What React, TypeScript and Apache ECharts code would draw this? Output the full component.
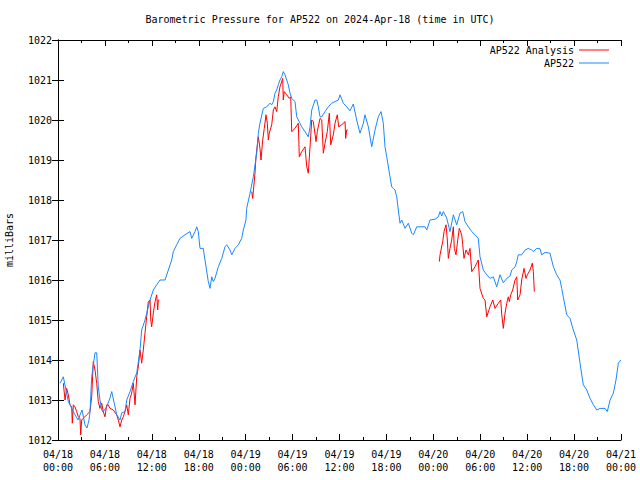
import React, { useEffect, useRef } from "react";
import * as echarts from "echarts";

const TITLE = "Barometric Pressure for AP522 on 2024-Apr-18 (time in UTC)";
const Y_NAME = "milliBars";
const SERIES_NAMES = ["AP522 Analysis", "AP522"];
const START_DAY = 18;

// hours since 2024-04-18 00:00 UTC
const stationHours = [
  0.26, 0.68, 1.32, 1.53, 2.17, 2.56, 3.07, 3.45, 3.71, 3.96, 4.09, 4.31, 4.73, 4.95, 5.15, 5.37, 5.59, 5.76,
  6.23, 6.65, 6.87, 7.29, 7.51, 7.93, 8.15, 8.57, 8.79, 9.21, 9.63, 10.07, 10.49, 10.7, 11.13, 11.34, 11.77,
  12.19, 12.62, 13.05, 13.69, 14.11, 14.54, 14.75, 15.18, 15.6, 16.24, 16.88, 17.1, 17.52, 17.74, 17.94, 18.16,
  18.58, 18.8, 19.22, 19.44, 19.66, 19.86, 20.08, 20.5, 20.94, 21.36, 21.58, 22.0, 22.22, 22.64, 23.06, 23.49,
  23.7, 24.04, 24.13, 24.56, 24.98, 25.41, 25.62, 25.83, 26.26, 26.69, 27.11, 27.33, 27.54, 27.75, 27.97, 28.17,
  28.39, 28.61, 28.81, 29.03, 29.25, 29.45, 29.67, 29.89, 30.31, 30.53, 30.73, 30.95, 31.17, 31.59, 32.01, 32.23,
  32.45, 32.87, 33.09, 33.29, 33.51, 33.73, 34.15, 34.57, 35.0, 35.43, 35.85, 36.07, 36.49, 36.92, 37.34, 37.77,
  38.2, 38.62, 39.05, 39.26, 39.69, 40.12, 40.54, 40.96, 41.31, 41.6, 41.82, 42.04, 42.46, 42.68, 42.88, 43.1,
  43.32, 43.52, 43.74, 43.96, 44.38, 44.8, 45.24, 45.44, 45.88, 46.94, 47.16, 47.58, 48.22, 48.64, 48.86, 49.07,
  49.28, 49.71, 50.13, 50.56, 50.99, 51.41, 51.76, 52.05, 52.48, 52.91, 53.33, 53.75, 53.97, 54.39, 54.83, 55.25,
  55.67, 56.11, 56.53, 56.95, 57.39, 57.81, 58.03, 58.45, 58.67, 58.87, 59.3, 59.73, 60.15, 60.58, 60.79, 61.22,
  61.64, 61.86, 62.28, 62.92, 63.35, 63.78, 64.2, 64.42, 64.62, 65.06, 65.48, 65.9, 66.34, 66.76, 67.18, 67.62,
  68.04, 68.47, 68.9, 69.32, 69.96, 70.25, 70.6, 71.02, 71.36, 71.66, 71.97,
];
const stationValues = [
  1013.42, 1013.58, 1012.96, 1012.88, 1012.63, 1012.5, 1012.75, 1012.38, 1012.3, 1012.5, 1012.68, 1013.58, 1014.18,
  1014.18, 1013.33, 1013.0, 1012.75, 1012.7, 1012.83, 1013.05, 1013.21, 1012.83, 1012.63, 1012.5, 1012.68, 1012.71,
  1013.0, 1013.21, 1013.46, 1013.68, 1014.25, 1014.75, 1015.0, 1015.17, 1015.5, 1015.75, 1015.88, 1016.0, 1016.0,
  1016.25, 1016.5, 1016.71, 1016.88, 1017.04, 1017.13, 1017.21, 1017.04, 1017.21, 1017.33, 1017.21, 1016.79, 1016.79,
  1016.5, 1015.96, 1015.79, 1016.08, 1015.96, 1016.04, 1016.33, 1016.54, 1016.83, 1016.88, 1016.75, 1016.63, 1016.79,
  1016.88, 1017.04, 1017.25, 1017.5, 1017.79, 1018.17, 1018.58, 1019.17, 1019.67, 1019.92, 1020.29, 1020.33, 1020.42,
  1020.38, 1020.46, 1020.67, 1020.75, 1020.88, 1021.0, 1021.08, 1021.21, 1021.13, 1021.0, 1020.88, 1020.67, 1020.54,
  1020.46, 1020.08, 1020.0, 1019.92, 1019.83, 1019.71, 1019.58, 1019.83, 1020.25, 1020.5, 1020.5, 1020.33, 1020.08,
  1020.08, 1020.21, 1020.33, 1020.42, 1020.46, 1020.5, 1020.63, 1020.42, 1020.33, 1020.23, 1020.4, 1020.0, 1019.67,
  1019.92, 1020.13, 1019.83, 1019.33, 1019.75, 1020.08, 1020.21, 1019.92, 1019.33, 1019.08, 1018.58, 1018.33, 1018.29,
  1018.25, 1018.08, 1017.75, 1017.42, 1017.5, 1017.29, 1017.42, 1017.17, 1017.13, 1017.33, 1017.33, 1017.25, 1017.5,
  1017.52, 1017.58, 1017.71, 1017.6, 1017.71, 1017.55, 1017.21, 1017.63, 1017.38, 1017.67, 1017.71, 1017.46, 1017.33,
  1017.21, 1017.13, 1017.04, 1016.58, 1016.25, 1016.13, 1016.04, 1016.08, 1015.83, 1016.13, 1015.93, 1016.04, 1016.1,
  1016.25, 1016.33, 1016.46, 1016.63, 1016.63, 1016.75, 1016.79, 1016.75, 1016.71, 1016.79, 1016.78, 1016.63, 1016.69,
  1016.67, 1016.33, 1016.13, 1016.0, 1015.79, 1015.58, 1015.13, 1015.04, 1014.75, 1014.5, 1013.92, 1013.38, 1013.25,
  1013.04, 1012.88, 1012.75, 1012.79, 1012.79, 1012.71, 1013.0, 1013.17, 1013.5, 1013.92, 1014.0,
];

// null marks a gap in the analysis series
const analysisHours = [
  0.68, 0.9, 1.11, 1.32, 1.53, 1.75, 1.83, 1.96, 2.17, 2.39, 2.6, 2.81, 2.9, 3.03, 3.67, 4.09, 4.31, 4.51, 4.73,
  4.95, 5.15, 5.37, 5.59, 5.79, 6.01, 6.23, 6.43, 6.65, 7.07, 7.51, 7.71, 7.93, 8.15, 8.35, 8.57, 8.79, 8.99, 9.21,
  9.42, 9.63, 9.85, 10.07, 10.27, 10.49, 10.7, 10.91, 11.13, 11.34, 11.55, 11.77, 11.86, 11.98, 12.19, 12.41, 12.62,
  12.75, 12.83, 12.96, 18.0,
  24.77, 24.9, 25.19, 25.32, 25.62, 25.83, 25.96, 26.18, 26.38, 26.6, 26.77, 26.9, 27.02, 27.33, 27.54, 27.75,
  27.97, 28.17, 28.39, 28.74, 28.81, 28.94, 29.25, 29.58, 29.76, 29.89, 30.31, 30.73, 30.86, 31.17, 31.59, 31.81,
  32.01, 32.23, 32.45, 32.65, 33.0, 33.16, 33.51, 33.73, 33.93, 34.15, 34.44, 34.7, 34.88, 35.21, 35.43, 35.72,
  35.9, 36.28, 36.71, 36.79, 36.92, 37.05, 42.0,
  48.77, 48.86, 49.2, 49.37, 49.62, 49.79, 49.92, 50.13, 50.35, 50.56, 50.68, 50.9, 51.07, 51.32, 51.63, 51.76,
  51.92, 52.18, 52.48, 52.69, 52.91, 53.33, 53.75, 53.97, 54.39, 54.61, 54.83, 55.25, 55.6, 55.89, 56.31, 56.62,
  56.75, 56.95, 57.17, 57.39, 57.59, 57.72, 57.9, 58.15, 58.45, 58.67, 58.79, 59.09, 59.3, 59.6, 59.85, 60.02,
  60.37, 60.66, 60.79, 60.92,
];
const analysisValues: (number | null)[] = [
  1013.42, 1013.0, 1013.29, 1013.13, 1012.88, 1012.83, 1012.42, 1012.88, 1012.83, 1012.71, 1012.58, 1012.54, 1012.13,
  1012.5, 1012.63, 1012.71, 1013.08, 1013.96, 1013.75, 1013.42, 1012.96, 1012.79, 1012.92, 1012.71, 1012.58, 1012.88,
  1012.88, 1012.79, 1012.75, 1012.63, 1012.5, 1012.33, 1012.5, 1012.58, 1012.71, 1012.88, 1012.63, 1013.04, 1013.17,
  1013.42, 1012.88, 1013.58, 1013.83, 1014.25, 1013.92, 1014.25, 1014.68, 1015.08, 1015.46, 1015.5, 1015.0, 1014.83,
  1015.17, 1015.46, 1015.63, 1015.25, 1015.5, 1015.5, null,
  1018.21, 1018.04, 1018.67, 1019.08, 1019.58, 1019.29, 1019.0, 1019.5, 1019.79, 1020.13, 1019.92, 1019.5, 1019.67,
  1019.88, 1020.25, 1020.33, 1020.21, 1020.58, 1020.83, 1021.04, 1020.5, 1020.71, 1020.63, 1020.54, 1020.58, 1019.71,
  1019.79, 1019.92, 1019.08, 1019.21, 1019.33, 1018.83, 1018.67, 1019.33, 1020.0, 1019.96, 1019.46, 1019.71, 1020.04,
  1020.0, 1019.17, 1019.42, 1019.71, 1020.17, 1019.38, 1019.63, 1019.92, 1020.13, 1019.83, 1019.88, 1019.96, 1019.54,
  1019.75, 1019.75, null,
  1016.46, 1016.63, 1016.96, 1017.21, 1017.38, 1017.0, 1016.54, 1016.79, 1017.0, 1017.33, 1016.79, 1016.63, 1016.92,
  1017.29, 1017.13, 1016.88, 1016.54, 1016.75, 1016.63, 1016.79, 1016.21, 1016.33, 1016.5, 1015.79, 1015.54, 1015.5,
  1015.08, 1015.33, 1015.5, 1015.29, 1015.42, 1015.5, 1015.13, 1014.79, 1015.17, 1015.42, 1015.58, 1015.46, 1015.63,
  1015.75, 1016.0, 1016.08, 1015.5, 1015.63, 1016.0, 1016.29, 1016.04, 1016.13, 1016.25, 1016.42, 1016.21, 1015.71,
];

const X_MIN = 0;
const X_MAX = 72;
const X_STEP = 6;
const Y_MIN = 1012;
const Y_MAX = 1022;
const Y_STEP = 1;

const FONT = "DejaVu Sans Mono";

function pad(n: number) {
  return n < 10 ? "0" + n : "" + n;
}
function timeLabel(h: number) {
  const day = START_DAY + Math.floor(h / 24);
  const hh = Math.round(h % 24);
  return `04/${pad(day)}\n${pad(hh)}:00`;
}

export default function App() {
  const ref = useRef<HTMLDivElement>(null);
  useEffect(() => {
    if (!ref.current) return;
    const chart = echarts.init(ref.current, undefined, { renderer: "svg" });
    const stationData = stationHours.map((h, i) => [h, stationValues[i]]);
    const analysisData = analysisHours.map((h, i) => [h, analysisValues[i] === null ? "-" : analysisValues[i]]);
    const axisLine = { show: true, lineStyle: { color: "#000", width: 1 } };
    const legendText = { fontFamily: FONT, fontSize: 10, color: "#000" };
    chart.setOption({
      animation: false,
      backgroundColor: "#fff",
      title: {
        text: TITLE,
        left: "center",
        top: 9,
        textStyle: { fontFamily: FONT, fontSize: 10, fontWeight: "normal", color: "#000" },
      },
      legend: [
        {
          data: [SERIES_NAMES[0]],
          right: 26,
          top: 40,
          align: "right",
          icon: "rect",
          itemWidth: 30,
          itemHeight: 1,
          textStyle: legendText,
        },
        {
          data: [SERIES_NAMES[1]],
          right: 26,
          top: 53,
          align: "right",
          icon: "rect",
          itemWidth: 30,
          itemHeight: 1,
          textStyle: legendText,
        },
      ],
      grid: { left: 58, right: 19, top: 40, bottom: 40, containLabel: false, outerBoundsMode: "none" },
      xAxis: [
        {
          type: "value",
          min: X_MIN,
          max: X_MAX,
          interval: X_STEP,
          axisLine,
          axisTick: { show: true, inside: true, length: 6, lineStyle: { color: "#000" } },
          minorTick: { show: true, splitNumber: 2, length: 3, lineStyle: { color: "#000" } },
          splitLine: { show: false },
          axisLabel: {
            formatter: (v: number) => timeLabel(v),
            fontFamily: FONT,
            fontSize: 10,
            color: "#000",
            lineHeight: 13,
            margin: 8,
          },
        },
        {
          type: "value",
          position: "top",
          min: X_MIN,
          max: X_MAX,
          interval: X_STEP,
          axisLine,
          axisTick: { show: true, inside: true, length: 6, lineStyle: { color: "#000" } },
          minorTick: { show: true, splitNumber: 2, length: 3, lineStyle: { color: "#000" } },
          splitLine: { show: false },
          axisLabel: { show: false },
        },
      ],
      yAxis: [
        {
          type: "value",
          min: Y_MIN,
          max: Y_MAX,
          interval: Y_STEP,
          name: Y_NAME,
          nameLocation: "middle",
          nameGap: 44,
          nameTextStyle: { fontFamily: FONT, fontSize: 10, color: "#000" },
          axisLine,
          axisTick: { show: true, inside: true, length: 6, lineStyle: { color: "#000" } },
          splitLine: { show: false },
          axisLabel: {
            formatter: (v: number) => String(v),
            fontFamily: FONT,
            fontSize: 10,
            color: "#000",
            margin: 6,
          },
        },
        {
          type: "value",
          position: "right",
          min: Y_MIN,
          max: Y_MAX,
          interval: Y_STEP,
          axisLine,
          axisTick: { show: true, inside: true, length: 6, lineStyle: { color: "#000" } },
          splitLine: { show: false },
          axisLabel: { show: false },
        },
      ],
      series: [
        {
          name: SERIES_NAMES[0],
          type: "line",
          data: analysisData,
          showSymbol: false,
          symbol: "none",
          connectNulls: false,
          lineStyle: { color: "#ff0000", width: 1 },
          itemStyle: { color: "#ff0000" },
        },
        {
          name: SERIES_NAMES[1],
          type: "line",
          data: stationData,
          showSymbol: false,
          symbol: "none",
          lineStyle: { color: "#1a88ff", width: 1 },
          itemStyle: { color: "#1a88ff" },
        },
      ],
    });
    return () => chart.dispose();
  }, []);
  return <div ref={ref} style={{ width: 640, height: 480, position: "absolute", left: 0, top: 0 }} />;
}
